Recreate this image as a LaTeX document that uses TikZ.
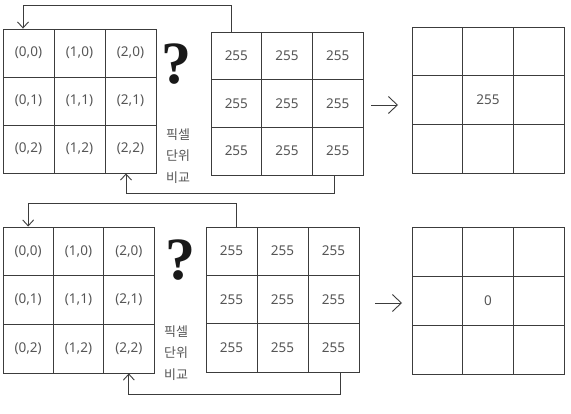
\documentclass[tikz,border=0pt]{standalone}
\usepackage{fontspec}
\setmainfont{Noto Sans}
\newfontfamily\krfont{Noto Sans CJK KR}
\newfontfamily\qfont{Liberation Serif}
\usetikzlibrary{arrows.meta,calc}
\definecolor{linecol}{HTML}{3C3C3C}
\definecolor{txtcol}{HTML}{555555}
\tikzset{
  cell/.style={draw=linecol, line width=0.9pt, inner sep=0pt, text=txtcol,
    font=\fontsize{13.5}{14}\selectfont},
  conn/.style={draw=linecol, line width=0.9pt, -{Straight Barb[length=6pt,width=11pt]}},
  rarrow/.style={draw=linecol, line width=0.9pt, -{Straight Barb[length=9pt,width=17pt]}},
  qmark/.style={font=\qfont\bfseries\fontsize{60}{60}\selectfont, text=black!90, inner sep=0pt},
  kor/.style={font=\krfont\fontsize{13}{21.5}\selectfont, text=txtcol, align=center, inner sep=0pt}
}
\newcommand\mkgrid[6]{%
  \foreach \lab [count=\i from 0] in {#6} {%
    \pgfmathtruncatemacro\cc{mod(\i,3)}%
    \pgfmathtruncatemacro\rr{div(\i,3)}%
    \node[cell, minimum width={(#4-#2)/3*1pt}, minimum height={(#5-#3)/3*1pt}]
      (#1-\cc\rr) at ({#2+(\cc+0.5)*(#4-#2)/3},{#3+(\rr+0.5)*(#5-#3)/3}) {\lab};
  }%
}
\begin{document}
\begin{tikzpicture}[x=1pt,y=-1pt]
\useasboundingbox[fill=white] (0,0) rectangle (571,414);
% top row
\mkgrid{A}{3}{29}{156}{173}{{(0,0)},{(1,0)},{(2,0)},{(0,1)},{(1,1)},{(2,1)},{(0,2)},{(1,2)},{(2,2)}}
\mkgrid{B}{211}{32}{363}{175}{255,255,255,255,255,255,255,255,255}
\mkgrid{C}{412}{27}{564}{173}{{},{},{},{},255,{},{},{},{}}
\node[qmark] (q1) at (176.5,64) {?};
\node[kor] (k1) at (178,156) {픽셀\\단위\\비교};
\draw[conn] ([xshift=-4.5pt]B-00.north) -- ++(0,-26) -| ([xshift=-5.5pt]A-00.north);
\draw[conn] ([xshift=-3.5pt]B-22.south) -- ++(0,18) -| ([xshift=-4.5pt]A-22.south);
\coordinate (r1) at (398,105);
\draw[rarrow] ([xshift=8pt,yshift=-1.5pt]B-21.east) -- (r1);
% bottom row
\mkgrid{D}{3}{227}{154}{373}{{(0,0)},{(1,0)},{(2,0)},{(0,1)},{(1,1)},{(2,1)},{(0,2)},{(1,2)},{(2,2)}}
\mkgrid{E}{206}{227}{359}{372}{255,255,255,255,255,255,255,255,255}
\mkgrid{F}{412}{227}{564}{374}{{},{},{},{},0,{},{},{},{}}
\node[qmark] (q2) at (180,260) {?};
\node[kor] (k2) at (176,353) {픽셀\\단위\\비교};
\draw[conn] ([xshift=4.5pt]E-00.north) -- ++(0,-23) -| (D-00.north);
\draw[conn] ([xshift=6.5pt]E-22.south) -- ++(0,22) -| (D-22.south);
\coordinate (r2) at (402,303);
\draw[rarrow] ([xshift=16pt,yshift=-3.5pt]E-21.east) -- (r2);
\end{tikzpicture}
\end{document}
